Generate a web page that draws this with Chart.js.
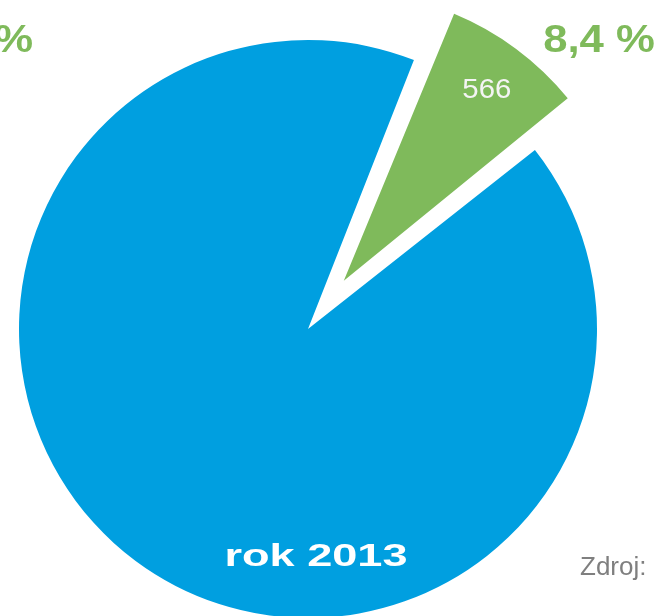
<!DOCTYPE html>
<html lang="cs">
<head>
    <meta charset="UTF-8">
    <title>rok 2013</title>
    <style>
        html, body {
            margin: 0;
            padding: 0;
            background: white;
            overflow: hidden;
        }
        #wrap {
            width: 662px;
            height: 616px;
        }
    </style>
    <script src="https://cdn.jsdelivr.net/npm/chart.js"></script>
</head>
<body>
    <div id="wrap"><canvas id="pie"></canvas></div>

    <script>
        // data
        const categories = ['podíl 8,4 %', 'podíl 91,6 %'];
        const values = [566, 6172];
        const shares = ['8,4 %', '91,6 %'];
        const colors = ['#7FBA5B', '#009FE0'];
        const yearLabel = 'rok 2013';
        const sourceLabel = 'Zdroj:';

        // Chart.js v4 moves an arc by offset / 4 pixels
        const explode = 60;

        // text drawn on top of the pie, horizontally stretched like the original
        function stretchedText(ctx, text, x, y, font, color, align, sx) {
            ctx.save();
            ctx.font = font;
            ctx.fillStyle = color;
            ctx.textAlign = align;
            ctx.textBaseline = 'alphabetic';
            ctx.translate(x, y);
            ctx.scale(sx, 1);
            ctx.fillText(text, 0, 0);
            ctx.restore();
        }

        // v4 also grows an offset arc's radius; shrink it back so both slices match
        const keepRadius = {
            id: 'keepRadius',
            afterDatasetsUpdate(chart) {
                chart.getDatasetMeta(0).data.forEach(arc => {
                    const off = (arc.options.offset || 0) / 4;
                    const fix = 1 - Math.sin(Math.min(Math.PI, arc.circumference || 0));
                    arc.outerRadius -= off * fix;
                });
            }
        };

        const labelPlugin = {
            id: 'pieLabels',
            afterDraw(chart) {
                const ctx = chart.ctx;
                const arcs = chart.getDatasetMeta(0).data;
                const green = arcs[0];
                const blue = arcs[1];
                const cx = blue.x, cy = blue.y;
                const mid = (green.startAngle + green.endAngle) / 2;
                const r = blue.outerRadius;

                // value inside the exploded slice
                const d = explode + r * 0.83;
                stretchedText(ctx, String(values[0]), cx + Math.cos(mid) * d, cy + Math.sin(mid) * d + 10,
                    '28px "Liberation Sans", Arial, sans-serif', '#F4F4F4', 'center', 1.05);

                // percentages
                stretchedText(ctx, shares[0], cx + 291, cy - 277,
                    'bold 39px "Liberation Sans", Arial, sans-serif', colors[0], 'center', 1.12);
                stretchedText(ctx, shares[1], 33, cy - 277,
                    'bold 39px "Liberation Sans", Arial, sans-serif', colors[0], 'right', 1.12);

                // year caption at the bottom of the pie
                stretchedText(ctx, yearLabel, cx + 8, cy + 237,
                    'bold 32px "Liberation Sans", Arial, sans-serif', '#FFFFFF', 'center', 1.41);

                // source note
                stretchedText(ctx, sourceLabel, 580, cy + 246,
                    '26px "Liberation Sans", Arial, sans-serif', '#7F7F7F', 'left', 1);
            }
        };

        new Chart(document.getElementById('pie').getContext('2d'), {
            type: 'pie',
            data: {
                labels: categories,
                datasets: [{
                    data: values,
                    backgroundColor: colors,
                    borderWidth: 0,
                    offset: [explode * 4, 0],
                    clip: false
                }]
            },
            options: {
                responsive: true,
                maintainAspectRatio: false,
                animation: false,
                rotation: 21.5,
                radius: 289,
                layout: {
                    padding: { left: 0, right: 46, top: 42, bottom: 0 }
                },
                plugins: {
                    legend: { display: false },
                    tooltip: { enabled: false },
                    title: { display: false }
                }
            },
            plugins: [keepRadius, labelPlugin]
        });
    </script>
</body>
</html>
